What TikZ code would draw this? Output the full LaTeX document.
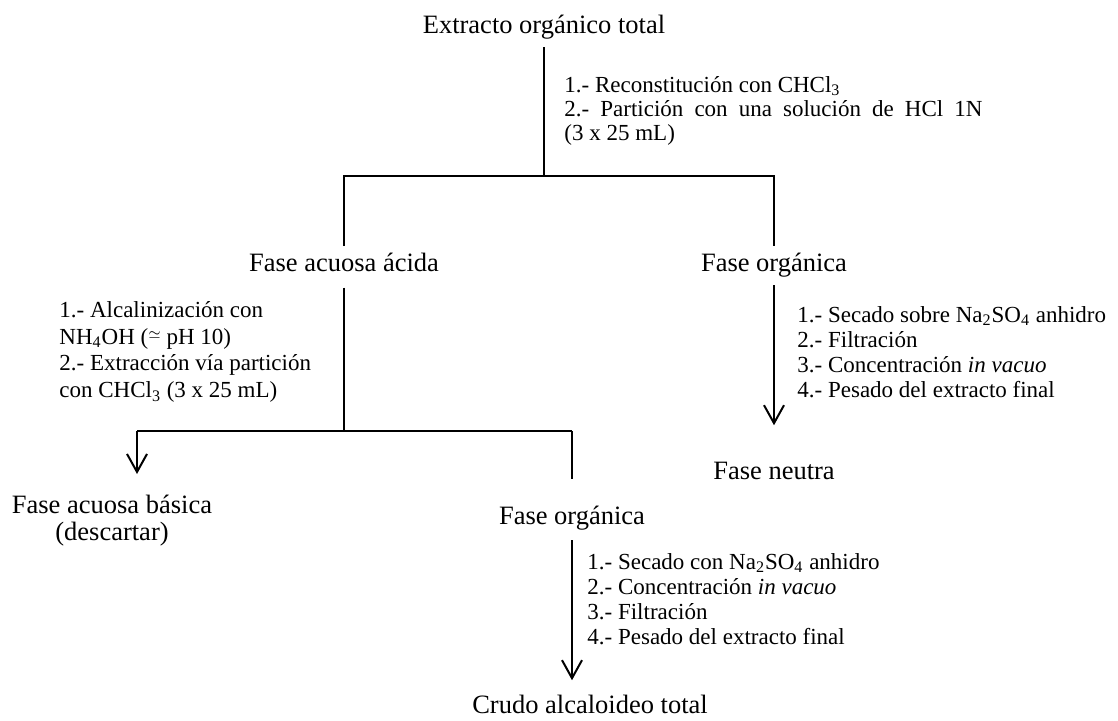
\documentclass[tikz,border=0pt]{standalone}
\usepackage{fontspec}
\setmainfont{Liberation Serif}
\usetikzlibrary{arrows.meta}
\tikzset{>={Straight Barb[length=9pt,width=10pt]},
  phase/.style={font=\fontsize{13.25}{13.5}\selectfont, inner sep=3.5pt},
  steps/.style={font=\fontsize{11.5}{12.5}\selectfont, align=left, inner sep=0pt, anchor=north west},
  link/.style={line width=1pt}}

\begin{document}
\begin{tikzpicture}[x=0.5pt,y=-0.5pt]
    \useasboundingbox (0,0) rectangle (1118,721);
    \node[phase, anchor=base] (extracto) at (544,34) {Extracto orgánico total};
    \node[phase, anchor=base] (acida) at (344,272) {Fase acuosa ácida};
    \node[phase, anchor=base] (org1) at (774,272) {Fase orgánica};
    \node[phase, anchor=base] (neutra) at (774,479) {Fase neutra};
    \node[phase, anchor=north, align=center] (basica) at (112,488) {Fase acuosa básica\\(descartar)};
    \node[phase, anchor=base] (org2) at (572,524) {Fase orgánica};
    \node[phase, anchor=base] (crudo) at (590,713) {Crudo alcaloideo total};
    \coordinate (div1) at (544,176);
    \coordinate (div2) at (344,431);
    \coordinate (left2) at (137,431);
    \coordinate (right2) at (572,431);

    \node[steps, font=\fontsize{11.5}{12}\selectfont] (paso1) at (564,76) {1.- Reconstitución con CHCl\textsubscript{3}\\
      \makebox[209pt][s]{2.- Partición con una solución de HCl 1N}\\(3 x 25 mL)};
    \node[steps, font=\fontsize{11.5}{13.4}\selectfont] (paso2) at (59,301) {1.- Alcalinización con\\
      NH\textsubscript{4}OH (\raisebox{.5ex}{\scriptsize$\simeq$} pH 10)\\
      2.- Extracción vía partición\\con CHCl\textsubscript{3} (3 x 25 mL)};
    \node[steps] (paso3) at (797,306) {1.- Secado sobre Na\textsubscript{2}SO\textsubscript{4} anhidro\\
      2.- Filtración\\3.- Concentración \textit{in vacuo}\\4.- Pesado del extracto final};
    \node[steps] (paso4) at (587,553) {1.- Secado con Na\textsubscript{2}SO\textsubscript{4} anhidro\\
      2.- Concentración \textit{in vacuo}\\3.- Filtración\\4.- Pesado del extracto final};

    \draw[link] (extracto) -- (div1);
    \draw[link] (acida) |- (div1) -| (org1);
    \draw[link, shorten <=4pt] (acida) -- (div2);
    \draw[link] (left2) -- (right2);
    \draw[link, ->, shorten >=7pt] (left2) -- (left2 |- basica.north);
    \draw[link, shorten >=9.5pt] (right2) -- (right2 |- org2.north);
    \draw[link, ->, shorten >=14.5pt] (org1) -- (neutra);
    \draw[link, ->, shorten <=1.5pt, shorten >=3.5pt] (org2) -- (org2 |- crudo.north);
\end{tikzpicture}
\end{document}
